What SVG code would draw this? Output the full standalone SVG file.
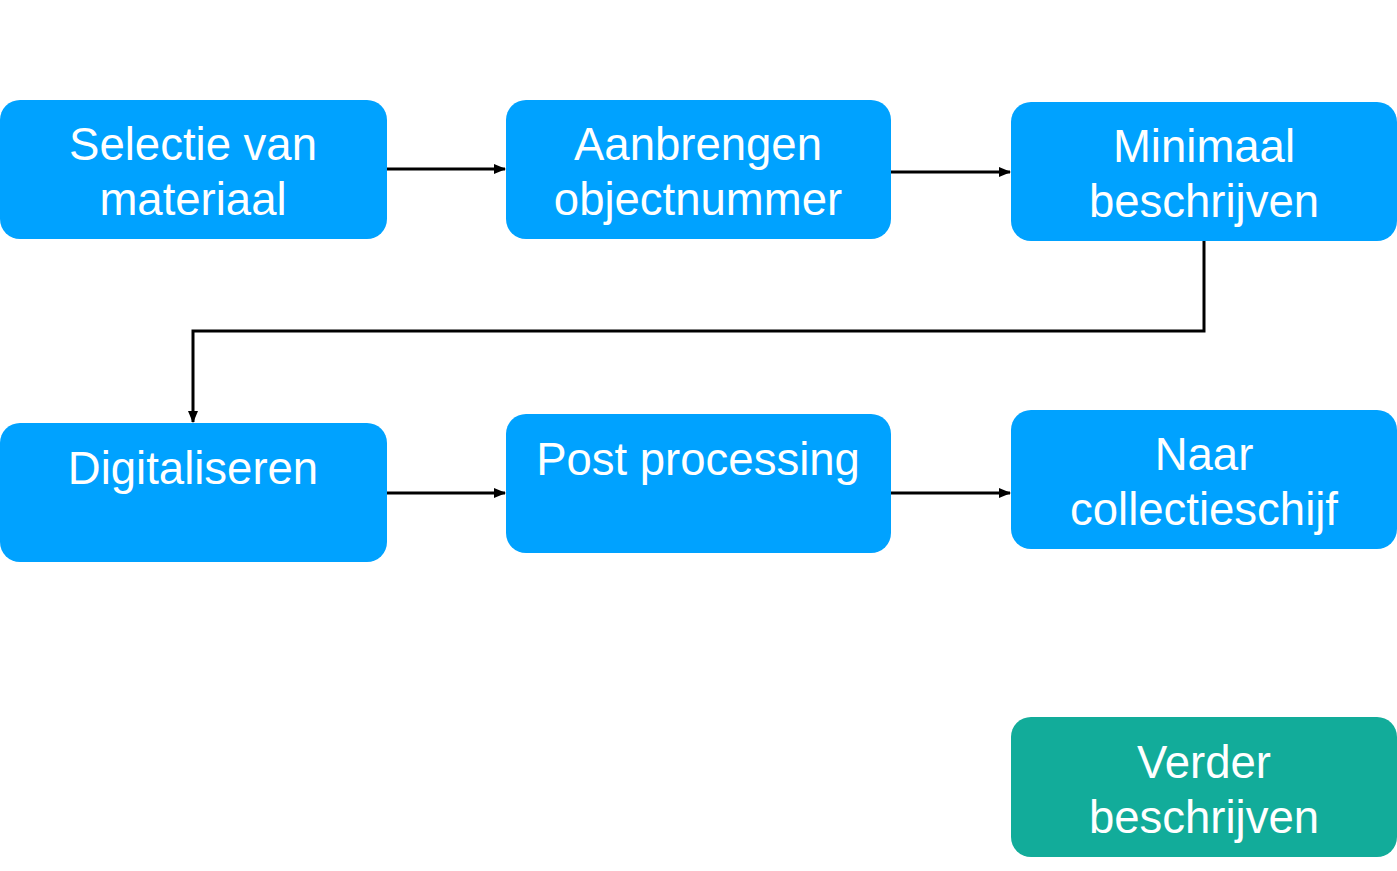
<svg xmlns="http://www.w3.org/2000/svg" width="1397" height="871" viewBox="0 0 1397 871">
<defs>
<style>
.b{fill:#00A2FF}
.g{fill:#12AC9A}
.t{font-family:"Liberation Sans",Arial,sans-serif;font-size:45.5px;fill:#fff;text-anchor:middle}
.c{fill:none;stroke:#000;stroke-width:3}
</style>
<marker id="a" markerWidth="12" markerHeight="10" refX="11" refY="5" orient="auto" markerUnits="userSpaceOnUse">
<path d="M0,0 L12,5 L0,10 Z" fill="#000"/>
</marker>
</defs>
<rect width="1397" height="871" fill="#fff"/>
<g id="connectors">
<path class="c" d="M387,169 H505" marker-end="url(#a)"/>
<path class="c" d="M891,172 H1010" marker-end="url(#a)"/>
<path class="c" d="M1204,241 V331 H193 V422" marker-end="url(#a)"/>
<path class="c" d="M387,493 H505" marker-end="url(#a)"/>
<path class="c" d="M891,493 H1010" marker-end="url(#a)"/>
</g>
<g id="n1"><rect class="b" x="0" y="100" width="387" height="139" rx="20"/><text class="t" x="193" y="160">Selectie van</text><text class="t" x="193" y="215">materiaal</text></g>
<g id="n2"><rect class="b" x="506" y="100" width="385" height="139" rx="20"/><text class="t" x="698" y="160">Aanbrengen</text><text class="t" x="698" y="215">objectnummer</text></g>
<g id="n3"><rect class="b" x="1011" y="102" width="386" height="139" rx="20"/><text class="t" x="1204" y="162">Minimaal</text><text class="t" x="1204" y="217">beschrijven</text></g>
<g id="n4"><rect class="b" x="0" y="423" width="387" height="139" rx="20"/><text class="t" x="193" y="484">Digitaliseren</text></g>
<g id="n5"><rect class="b" x="506" y="414" width="385" height="139" rx="20"/><text class="t" x="698" y="475">Post processing</text></g>
<g id="n6"><rect class="b" x="1011" y="410" width="386" height="139" rx="20"/><text class="t" x="1204" y="470">Naar</text><text class="t" x="1204" y="525">collectieschijf</text></g>
<g id="n7"><rect class="g" x="1011" y="717" width="386" height="140" rx="20"/><text class="t" x="1204" y="778">Verder</text><text class="t" x="1204" y="833">beschrijven</text></g>
</svg>
